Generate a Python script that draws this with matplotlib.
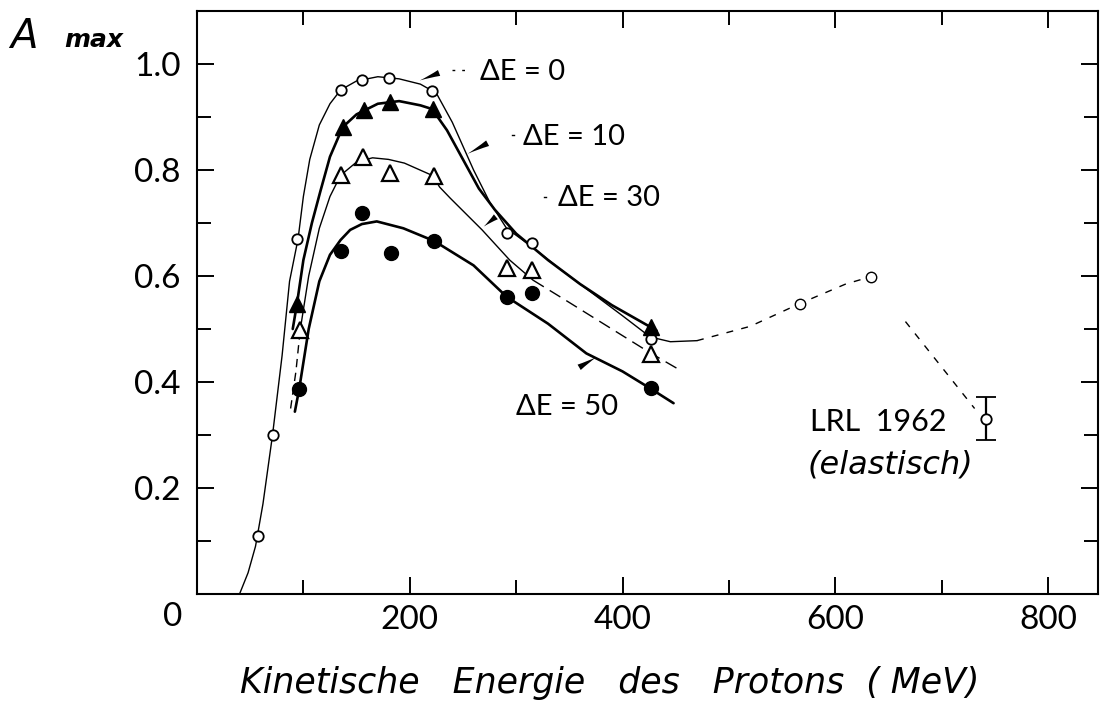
import matplotlib
matplotlib.use("Agg")
import matplotlib.pyplot as plt

# ---- measured analysing power maxima (kinetic energy in MeV) ----
e_de0 = [57.6, 71.1, 94.3, 135.5, 155.4, 180.8, 220.5, 291.6, 315.3, 426.4]
a_de0 = [0.109, 0.300, 0.669, 0.951, 0.970, 0.974, 0.950, 0.681, 0.663, 0.482]

e_de10 = [93.7, 137.5, 157.3, 181.4, 221.5, 426.4]
a_de10 = [0.548, 0.881, 0.913, 0.929, 0.915, 0.504]

e_de30 = [96.8, 135.3, 156.4, 181.4, 222.7, 291.6, 315.3, 426.4]
a_de30 = [0.498, 0.790, 0.824, 0.795, 0.789, 0.615, 0.611, 0.453]

e_de50 = [96.2, 135.3, 155.4, 182.3, 223.0, 291.0, 315.3, 426.4]
a_de50 = [0.386, 0.648, 0.718, 0.644, 0.666, 0.561, 0.567, 0.388]

e_high = [566.7, 634.0]
a_high = [0.548, 0.599]

e_lrl = [741.5]
a_lrl = [0.331]
a_lrl_err = [0.040]

# ---- hand-drawn guide curves ----
c0_e = [40, 48, 55, 62, 71, 80, 87, 95, 100, 106, 115, 125, 135, 150, 170, 190,
        210, 225, 240, 260, 275, 291, 315, 340, 370, 400, 426, 445, 470]
c0_a = [0.0, 0.04, 0.09, 0.17, 0.30, 0.45, 0.59, 0.67, 0.75, 0.82, 0.885, 0.925,
        0.951, 0.968, 0.976, 0.972, 0.962, 0.945, 0.89, 0.80, 0.74, 0.69, 0.655,
        0.615, 0.57, 0.525, 0.485, 0.476, 0.478]
c0_dash_e = [470, 520, 566.7, 610, 634]
c0_dash_a = [0.478, 0.505, 0.548, 0.585, 0.599]
lrl_dash_e = [666, 731]
lrl_dash_a = [0.514, 0.350]

c10_e = [90, 94, 100, 108, 116, 125, 137, 150, 170, 190, 210, 221, 235, 250, 265,
         280, 300, 330, 360, 390, 426, 432]
c10_a = [0.50, 0.548, 0.63, 0.70, 0.76, 0.825, 0.881, 0.905, 0.925, 0.93, 0.922,
         0.915, 0.875, 0.82, 0.765, 0.725, 0.68, 0.63, 0.585, 0.545, 0.504, 0.497]

c30_low_e = [88, 93, 97]
c30_low_a = [0.35, 0.42, 0.498]
c30_e = [97, 105, 115, 125, 135, 150, 165, 180, 195, 213, 222, 228, 238, 268, 294, 316]
c30_a = [0.498, 0.60, 0.69, 0.75, 0.79, 0.815, 0.823, 0.82, 0.813, 0.797, 0.789,
         0.768, 0.747, 0.687, 0.63, 0.592]
c30_tail_e = [316, 350, 390, 426, 451]
c30_tail_a = [0.592, 0.55, 0.50, 0.455, 0.426]

c50_e = [92, 96, 105, 115, 125, 135, 144, 155, 169, 194, 223, 260, 291, 330, 366,
         400, 426, 448]
c50_a = [0.344, 0.386, 0.50, 0.59, 0.64, 0.668, 0.687, 0.698, 0.703, 0.690, 0.666,
         0.62, 0.561, 0.51, 0.454, 0.42, 0.388, 0.36]

x_ticks = [200, 400, 600, 800]
x_minor = [100, 300, 500, 700]
y_ticks = [0.2, 0.4, 0.6, 0.8, 1.0]
y_minor = [0.1, 0.3, 0.5, 0.7, 0.9]

SANS = ["Lato", "DejaVu Sans"]
TICKFONT = dict(family=SANS, weight="normal", color="black")

fig = plt.figure(figsize=(11.01, 7.04), dpi=100)
ax = fig.add_axes([197 / 1101, 110 / 704, 901 / 1101, 583 / 704])
ax.set_xlim(0, 847)
ax.set_ylim(0, 1.1)

thin = dict(color="black", lw=1.0, solid_capstyle="round")
thick = dict(color="black", lw=1.9, solid_capstyle="round")

ax.plot(c0_e, c0_a, **thin)
ax.plot(c0_dash_e, c0_dash_a, color="black", lw=1.0, ls=(0, (5, 6)))
ax.plot(lrl_dash_e, lrl_dash_a, color="black", lw=1.0, ls=(0, (5, 6)))
ax.plot(c10_e, c10_a, **thick)
ax.plot(c30_low_e, c30_low_a, color="black", lw=1.0, ls=(0, (6, 4)))
ax.plot(c30_e, c30_a, **thin)
ax.plot(c30_tail_e, c30_tail_a, color="black", lw=1.0, ls=(0, (9, 5)))
ax.plot(c50_e, c50_a, **thick)

ax.plot(e_de0, a_de0, ls="none", marker="o", ms=7.5, mfc="white", mec="black",
        mew=1.3, zorder=5)
ax.plot(e_high, a_high, ls="none", marker="o", ms=7.5, mfc="white", mec="black",
        mew=1.0, zorder=5)
ax.plot(e_de10, a_de10, ls="none", marker="^", ms=12, color="black", zorder=5)
ax.plot(e_de30, a_de30, ls="none", marker="^", ms=12, mfc="white", mec="black",
        mew=1.6, zorder=5)
ax.plot(e_de50, a_de50, ls="none", marker="o", ms=10, color="black", zorder=5)
ax.errorbar(e_lrl, a_lrl, yerr=a_lrl_err, fmt="o", ms=7.5, mfc="white",
            mec="black", mew=1.3, ecolor="black", elinewidth=1.6, capsize=7,
            capthick=1.6, zorder=5)

# curve labels with pointers
lab = dict(fontsize=21, va="center", ha="left", **TICKFONT)
ax.text(266, 0.985, "ΔE = 0", **lab)
ax.text(306, 0.863, "ΔE = 10", **lab)
ax.text(339, 0.747, "ΔE = 30", **lab)
ax.text(300, 0.353, "ΔE = 50", **lab)

arrow = dict(arrowstyle="wedge,tail_width=0.45,shrink_factor=0.4", color="black",
             lw=0)
ax.annotate("", xy=(207, 0.967), xytext=(230, 0.985), arrowprops=arrow)
ax.annotate("", xy=(252, 0.828), xytext=(275.5, 0.853), arrowprops=arrow)
ax.annotate("", xy=(267.6, 0.690), xytext=(283, 0.715), arrowprops=arrow)
ax.annotate("", xy=(378, 0.450), xytext=(357, 0.425), arrowprops=arrow)
ax.plot([240, 257], [0.989, 0.989], color="black", lw=1.0, ls=(0, (2, 5)))
ax.plot([296, 298], [0.866, 0.866], color="black", lw=1.0)
ax.plot([326, 328], [0.750, 0.750], color="black", lw=1.0)

ax.text(576, 0.325, "LRL  1962", fontsize=22, va="center", ha="left", **TICKFONT)
ax.text(652, 0.243, "(elastisch)", fontsize=23, va="center", ha="center",
        style="italic", family=["DejaVu Sans"])

# axes frame and ticks
for s in ax.spines.values():
    s.set_linewidth(1.5)
ax.set_xticks(x_ticks)
ax.set_xticks(x_minor, minor=True)
ax.set_yticks(y_ticks)
ax.set_yticks(y_minor, minor=True)
ax.set_xticklabels([str(v) for v in x_ticks])
ax.set_yticklabels([f"{v:.1f}" for v in y_ticks])
ax.tick_params(which="both", direction="in", top=True, right=True, width=1.4,
               labelsize=24, colors="black")
ax.tick_params(which="major", length=12)
ax.tick_params(which="minor", length=10)
ax.tick_params(axis="y", pad=12)
ax.tick_params(axis="x", pad=8)
for t in ax.get_xticklabels() + ax.get_yticklabels():
    t.set_family(SANS)
    t.set_weight("normal")

fig.text(173 / 1101, 1 - 617 / 704, "0", fontsize=24, ha="center", va="center",
         **TICKFONT)
fig.text(10 / 1101, 1 - 36 / 704, "A", fontsize=29, style="italic",
         ha="left", va="center", family=["DejaVu Sans"])
fig.text(64 / 1101, 1 - 40 / 704, "max", fontsize=18, style="italic",
         weight="bold", ha="left", va="center", family=["DejaVu Sans"])
fig.text(610 / 1101, 1 - 683 / 704, "Kinetische   Energie   des   Protons  ( MeV)",
         fontsize=25, style="italic", ha="center", va="center",
         family=["DejaVu Sans"])

fig.savefig("out.png", dpi=100, facecolor="white")
